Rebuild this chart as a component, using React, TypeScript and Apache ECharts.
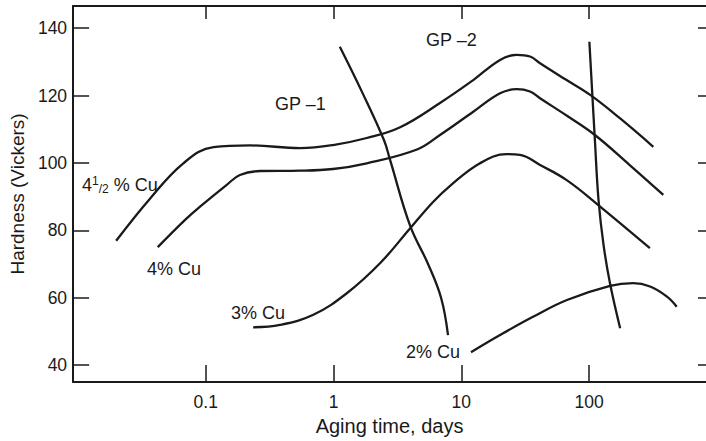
import React, { useEffect, useRef } from "react";
import * as echarts from "echarts";

// Aging time (days) and hardness (Vickers)
const cu45Days = [0.0199, 0.0366, 0.0668, 0.115, 0.222, 0.547, 0.99, 1.82, 3.32, 6.81, 12.4, 20.1, 27.2, 34.5, 41.3, 64.7, 102, 175, 318];
const cu45Hv = [76.9, 89.4, 99.9, 104.7, 105.2, 104.4, 105.3, 107.4, 110.6, 117.8, 124.6, 130.6, 132.1, 131.6, 129.6, 124.9, 120.2, 113.2, 104.8];

const cu4Days = [0.0421, 0.0689, 0.0902, 0.146, 0.185, 0.266, 0.547, 0.99, 1.82, 4.5, 6.81, 12.4, 20.1, 27.2, 34.5, 41.3, 67.1, 111, 209, 381];
const cu4Hv = [75.0, 83.1, 87.0, 93.5, 96.4, 97.6, 97.7, 98.2, 99.9, 104.0, 108.3, 115.2, 120.7, 121.9, 121.2, 119.2, 114.0, 108.3, 99.3, 90.5];

const cu3Days = [0.235, 0.381, 0.695, 1.27, 2.31, 3.98, 6.01, 8.17, 14.0, 22.6, 28.8, 41.3, 66.8, 118, 299];
const cu3Hv = [51.2, 51.9, 54.9, 61.3, 70.2, 80.6, 88.4, 93.2, 99.9, 102.6, 102.4, 99.4, 94.9, 87.5, 74.7];

const cu2Days = [11.9, 20.1, 36.4, 67.1, 146, 221, 300, 407, 485];
const cu2Hv = [43.8, 48.9, 54.3, 59.3, 63.5, 64.3, 63.3, 60.3, 57.3];

const gp1Days = [1.12, 1.67, 2.48, 2.77, 3.98, 5.49, 6.95, 7.87];
const gp1Hv = [134.5, 121.1, 106.8, 100.9, 81.3, 70.0, 59.9, 48.9];

const gp2Days = [100.5, 105.5, 111, 118.5, 129.8, 146, 175];
const gp2Hv = [136.0, 121.7, 106.8, 89.0, 75.6, 64.1, 50.9];

const xTickDays = [0.1, 1, 10, 100];
const xTickLabels = ["0.1", "1", "10", "100"];
const yTicks = [40, 60, 80, 100, 120, 140];

const X_MIN_DAYS = 0.00916;
const X_MAX_DAYS = 822;
const Y_MIN = 34.95;
const Y_MAX = 146.6;

const FONT = "'Liberation Sans', Arial, Helvetica, sans-serif";
const INK = "#1a1a1a";

const toPairs = (days: number[], hv: number[]) =>
  days.map((d, i) => [Math.log10(d), hv[i]]);

export default function App() {
  const ref = useRef<HTMLDivElement>(null);

  useEffect(() => {
    if (!ref.current) return;
    const chart = echarts.init(ref.current, null, { renderer: "svg" });
    const xTickLogs = xTickDays.map((d) => Math.log10(d));
    const xMin = Math.log10(X_MIN_DAYS);
    const xMax = Math.log10(X_MAX_DAYS);

    const lineSeries = (name: string, days: number[], hv: number[]) => ({
      name,
      type: "line",
      data: toPairs(days, hv),
      showSymbol: false,
      smooth: 0.4,
      lineStyle: { color: INK, width: 2.3 },
      silent: true,
    });

    const labelText = (text: string, x: number, y: number, rich?: any) => ({
      type: "text",
      x,
      y,
      silent: true,
      style: {
        text,
        fill: INK,
        fontSize: 18,
        fontFamily: FONT,
        align: "left",
        verticalAlign: "middle",
        textAlign: "left",
        textVerticalAlign: "middle",
        rich,
      },
    });

    chart.setOption({
      animation: false,
      backgroundColor: "#ffffff",
      grid: { left: 73, right: 0, top: 6, bottom: 59, containLabel: false },
      xAxis: [
        {
          type: "value",
          position: "bottom",
          min: xMin,
          max: xMax,
          name: "Aging time, days",
          nameLocation: "middle",
          nameGap: 33,
          nameTextStyle: { fontSize: 20, fontFamily: FONT, color: INK },
          axisLine: { show: true, onZero: false, lineStyle: { color: INK, width: 2 } },
          axisTick: {
            show: true,
            inside: true,
            length: 17,
            customValues: xTickLogs,
            lineStyle: { color: INK, width: 1.5 },
          },
          axisLabel: {
            customValues: xTickLogs,
            margin: 11,
            fontSize: 17.5,
            fontFamily: FONT,
            color: INK,
            formatter: (v: number) => {
              const idx = xTickLogs.findIndex((t) => Math.abs(t - v) < 1e-6);
              return idx >= 0 ? xTickLabels[idx] : "";
            },
          },
          splitLine: { show: false },
        },
        {
          type: "value",
          position: "top",
          min: xMin,
          max: xMax,
          axisLine: { show: true, onZero: false, lineStyle: { color: INK, width: 2 } },
          axisTick: {
            show: true,
            inside: true,
            length: 13,
            customValues: xTickLogs,
            lineStyle: { color: INK, width: 1.5 },
          },
          axisLabel: { show: false },
          splitLine: { show: false },
        },
      ],
      yAxis: [
        {
          type: "value",
          position: "left",
          min: Y_MIN,
          max: Y_MAX,
          name: "Hardness (Vickers)",
          nameLocation: "middle",
          nameGap: 45,
          nameTextStyle: { fontSize: 19, fontFamily: FONT, color: INK },
          axisLine: { show: true, onZero: false, lineStyle: { color: INK, width: 2 } },
          axisTick: {
            show: true,
            inside: true,
            length: 16,
            customValues: yTicks,
            lineStyle: { color: INK, width: 1.5 },
          },
          axisLabel: {
            customValues: yTicks,
            margin: 6,
            fontSize: 17.5,
            fontFamily: FONT,
            color: INK,
          },
          splitLine: { show: false },
        },
        {
          type: "value",
          position: "right",
          min: Y_MIN,
          max: Y_MAX,
          axisLine: { show: false, onZero: false },
          axisTick: {
            show: true,
            inside: true,
            length: 8,
            customValues: yTicks,
            lineStyle: { color: INK, width: 1.5 },
          },
          axisLabel: { show: false },
          splitLine: { show: false },
        },
      ],
      series: [
        lineSeries("4 1/2 % Cu", cu45Days, cu45Hv),
        lineSeries("4% Cu", cu4Days, cu4Hv),
        lineSeries("3% Cu", cu3Days, cu3Hv),
        lineSeries("2% Cu", cu2Days, cu2Hv),
        lineSeries("GP -1", gp1Days, gp1Hv),
        lineSeries("GP -2", gp2Days, gp2Hv),
      ],
      graphic: [
        labelText("4{sup|1}{frac|/2} % Cu", 82, 185, {
          sup: { fontSize: 12, fontFamily: FONT, fill: INK, verticalAlign: "top", padding: [0, 0, 8, 0] },
          frac: { fontSize: 12, fontFamily: FONT, fill: INK, verticalAlign: "bottom" },
        }),
        labelText("4% Cu", 147, 269),
        labelText("3% Cu", 231, 313),
        labelText("2% Cu", 406, 352),
        labelText("GP \u20131", 275, 104),
        labelText("GP \u20132", 426, 40),
      ],
    });

    return () => chart.dispose();
  }, []);

  return (
    <div
      ref={ref}
      style={{ position: "absolute", left: 0, top: 0, width: 706, height: 441 }}
    />
  );
}
